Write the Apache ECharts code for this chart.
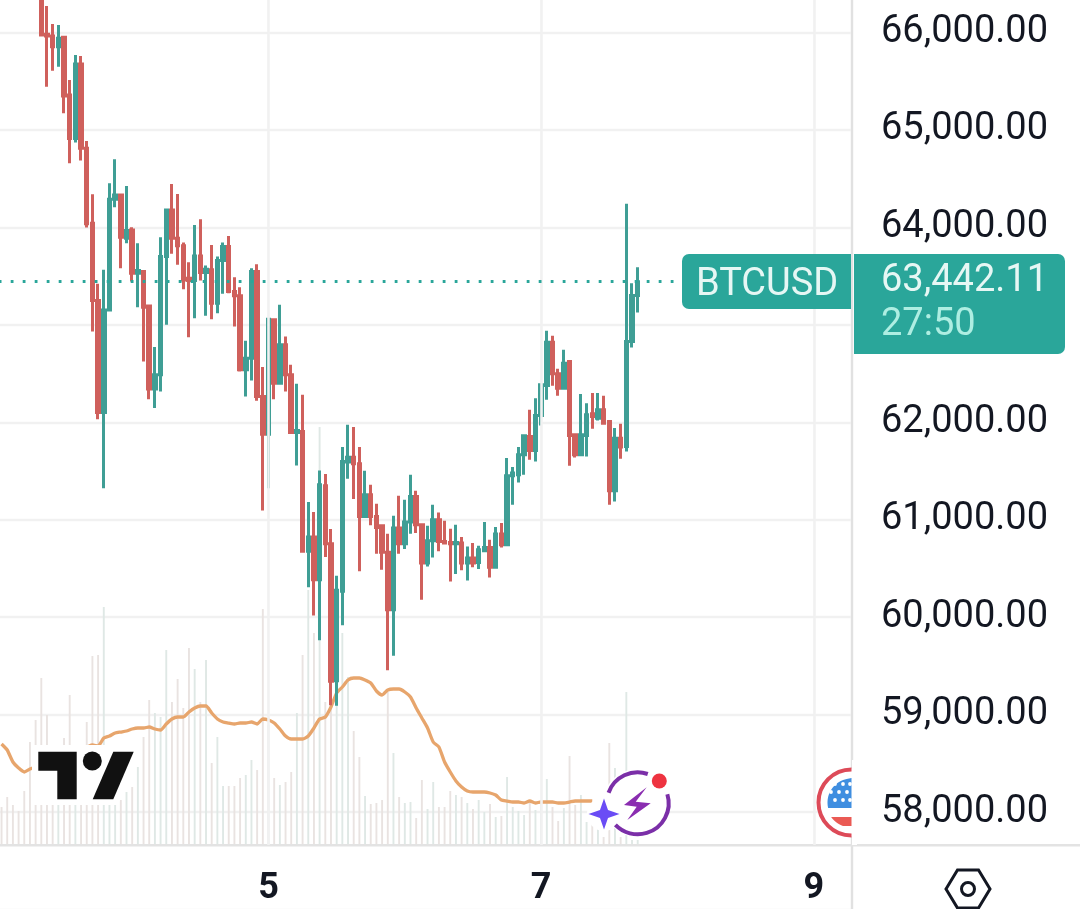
<!DOCTYPE html>
<html><head><meta charset="utf-8">
<style>html,body{margin:0;padding:0;background:#fff}#c{width:1080px;height:909px}</style>
<script src="https://cdn.jsdelivr.net/npm/echarts@6/dist/echarts.min.js"></script>
</head><body><div id="c"></div>
<script>
// hourly bars; first visible bar is hour index 7
const firstCandle = 7;
const opens = [66400,65981,65964,65854,65950,65359,64911,65677,64812,64042,
63249,62100,63153,64289,64333,63889,63974,63530,63547,63194,
62340,62487,63700,64179,63889,63810,63478,63454,63707,63536,
63564,63222,63660,63803,63342,63297,62538,62658,63547,62265,
61878,63051,62401,62795,62487,61895,61906,60675,60822,60384,
61348,60754,59348,60265,61591,61642,61574,61034,61256,61034,
60938,60665,60077,60914,60754,60976,61239,60948,60555,60784,
61000,60777,60767,60754,60760,60555,60606,60562,60682,60716,
60511,60853,60743,61451,61461,61666,61854,61711,62070,62377,
62822,62497,62350,62624,61871,61666,61865,62087,62042,62128,
62008,61297,61837,61752,62829,63300];
const closes = [65974,65964,65854,65940,65348,64911,65677,64812,64036,63249,
62100,63153,64289,64333,63899,63967,63530,63557,63181,62340,
62487,63700,64179,63889,63810,63461,63454,63707,63536,63571,
63222,63660,63803,63342,63297,62538,62658,63547,62265,61878,
63058,62401,62795,62487,61895,61916,60675,60822,60384,61359,
60754,59342,60275,61598,61642,61574,61034,61256,61034,60921,
60665,60077,60914,60754,60976,61239,60948,60555,60784,61000,
60777,60760,60754,60767,60555,60606,60555,60692,60716,60511,
60853,60743,61451,61478,61666,61861,61711,62070,62384,62822,
62497,62350,62606,61865,61666,61871,62077,62060,62128,61991,
61297,61837,61745,62829,63300,63442];
const lows = [65974,65444,65608,65649,65171,64658,64870,64685,63998,62931,
62032,61324,63153,64206,63581,63837,63444,63181,62624,62237,
62145,62316,63000,63728,63615,63365,62873,63068,63454,63092,
63058,63119,63318,63325,62983,62521,62265,62429,62220,61095,
61324,62237,62384,62316,61895,61557,60675,60306,60018,59762,
60617,59095,59092,59916,61420,61212,60470,61034,60942,60651,
60487,59454,59605,60651,60699,60856,60863,60179,60521,60613,
60675,60750,60367,60442,60480,60377,60511,60494,60675,60408,
60511,60716,60736,61153,61383,61461,61615,61598,61967,62230,
62374,62271,62343,61553,61639,61666,61649,61933,62018,61984,
61153,61188,61625,61700,62767,63126];
const highs = [66400,66271,66087,66077,65964,65512,65769,65759,64887,64340,
63420,63564,64453,64699,64333,64425,64001,63837,63557,63194,
62771,63899,64186,64446,64343,63844,63642,64025,64083,63608,
63820,63700,63844,63912,63489,63386,62836,63581,63622,62566,
63068,63058,63205,62880,62589,62394,62282,61181,61078,61506,
61468,60904,60425,61745,61974,61950,61745,61502,61359,61164,
60948,60856,61041,61246,61205,61461,61297,60948,60938,61153,
61075,60989,60907,60948,60822,60726,60760,60733,60976,60794,
60925,60965,61632,61540,61745,61878,62128,62247,62391,62938,
62887,62548,62743,62630,61878,62289,62196,62299,62299,62271,
62015,61940,61984,64241,63427,63591];
const volumes = [38,48,40,34,54,103,125,167,130,40,58,107,150,78,72,123,189,190,238,78,72,45,53,58,78,108,145,132,128,195,
143,166,137,197,176,143,185,82,108,59,59,59,67,70,85,75,236,120,67,60,63,73,132,190,255,212,418,143,155,185,
212,168,114,88,49,41,42,45,153,92,48,42,43,27,65,36,63,38,38,54,50,48,42,36,45,33,41,28,29,68,
38,34,30,42,35,45,66,38,24,37,89,40,50,23,28,18,8,102,77,8,153,5,5];
const volumeAvg = [101,95,83,77,73,76,78,80,82,85,88,91,93,95,97,98,100,99,107,109,112,113,114,116,117,117,118,116,115,121,
126,128,128,133,137,139,139,132,126,123,122,121,122,122,123,121,126,125,122,116,109,106,106,106,109,117,126,128,138,152,
158,165,167,167,165,162,154,150,155,156,156,153,148,137,127,117,103,98,83,73,64,58,54,53,53,53,52,50,45,44,
43,43,42,44,42,43,43,43,42,42,43,44,44,44,44];
const priceTicks = ['66,000.00','65,000.00','64,000.00','63,000.00','62,000.00','61,000.00','60,000.00','59,000.00','58,000.00'];
const dayLabels = {47:'5',95:'7',143:'9'};
const lastPrice = 63442.11;
const bandCount = 150;

const categories = Array.from({length:bandCount},(_,i)=>String(i));
const candleData = categories.map((_,i)=>{
  const k=i-firstCandle;
  return (k>=0&&k<opens.length)?[opens[k],closes[k],lows[k],highs[k]]:'-';
});
const RED='#cf605c', TEAL='#3f9e95', TAG='#2aa69a', INK='#131722', LOGO='#111111';
const volumeData = volumes.map((v,i)=>{
  const k=i-firstCandle;
  const up = k>=0 && closes[k]>=opens[k];
  return {value:v,itemStyle:{color:up?'#dfe8e5':'#e9e3e1'}};
});

// circular-segment helper for the flag badge decoration
function seg(cx,cy,r,y0,y1){
  const pts=[];
  for(let y=y0;y<=y1;y+=1){pts.push([cx-Math.sqrt(Math.max(r*r-(y-cy)*(y-cy),0)),y]);}
  pts.push([cx,y1]);pts.push([cx,y0]);
  return pts;
}
const d2r=Math.PI/180;
const fx=851.5, fy=802.5;
const flagStars=[[835,784],[843,784],[850,784],[831,792],[839,792],[847,792],[835,800],[843,800],[850,800]];
const graphic=[
  // right panel tags
  {type:'rect',z:20,shape:{x:682,y:254,width:169,height:55,r:[7,0,0,7]},style:{fill:TAG}},
  {type:'rect',z:20,shape:{x:854,y:254,width:211,height:100,r:[0,7,7,0]},style:{fill:TAG}},
  {type:'text',z:21,x:696,y:285,style:{text:'BTCUSD',font:'38px Roboto',fill:'#e6f7f4',verticalAlign:'middle'}},
  {type:'text',z:21,x:881,y:281,style:{text:'63,442.11',font:'38px Roboto',fill:'#e6f7f4',verticalAlign:'middle'}},
  {type:'text',z:21,x:881,y:325,style:{text:'27:50',font:'38px Roboto',fill:'#aeeee2',verticalAlign:'middle'}},
  // bottom border
  {type:'rect',z:5,shape:{x:0,y:844,width:1080,height:2.4},style:{fill:'#e3e3e3'}},
  // settings icon
  {type:'polygon',z:6,shape:{points:[[946,889],[957.5,870],[978.5,870],[990,889],[978.5,908],[957.5,908]]},style:{fill:'none',stroke:INK,lineWidth:3}},
  {type:'circle',z:6,shape:{cx:968,cy:889,r:6.5},style:{fill:'none',stroke:INK,lineWidth:3}},
  // TradingView logo
  {type:'polygon',z:6,shape:{points:[[32,745],[140,745],[118,805],[32,805]]},style:{fill:'#fff'}},
  {type:'polygon',z:7,shape:{points:[[38.3,751.7],[76.7,751.7],[76.7,799.3],[57.3,799.3],[57.3,770.7],[38.3,770.7]]},style:{fill:LOGO}},
  {type:'circle',z:7,shape:{cx:92.3,cy:761,r:9.5},style:{fill:LOGO}},
  {type:'polygon',z:7,shape:{points:[[113.3,751.7],[133.7,751.7],[113.3,799.3],[92.7,799.3]]},style:{fill:LOGO}},
  // assistant badge
  {type:'circle',z:6,shape:{cx:637,cy:803,r:34},style:{fill:'#fff'}},
  {type:'circle',z:6,shape:{cx:604,cy:814,r:17},style:{fill:'#fff'}},
  {type:'arc',z:7,shape:{cx:637.7,cy:803.3,r:31,startAngle:200*d2r,endAngle:289*d2r},style:{stroke:'#7b2fa8',lineWidth:4,fill:'none'}},
  {type:'arc',z:7,shape:{cx:637.7,cy:803.3,r:31,startAngle:-17*d2r,endAngle:136*d2r},style:{stroke:'#7b2fa8',lineWidth:4,fill:'none'}},
  {type:'polygon',z:7,shape:{points:[[646.7,787.3],[635.7,801.7],[650.7,803.3],[627.3,820],[636.7,806.7],[624,805]]},style:{fill:'#8a2db0'}},
  {type:'polygon',z:7,shape:{points:[[604,798.5],[608,810],[619.5,814],[608,818],[604,829.5],[600,818],[588.5,814],[600,810]]},style:{fill:'#6a4cf5'}},
  {type:'circle',z:7,shape:{cx:659.3,cy:781,r:9},style:{fill:'#fff'}},
  {type:'circle',z:8,shape:{cx:659.3,cy:781,r:7.5},style:{fill:'#ee3340'}},
  // flag badge (left half only, clipped by the axis)
  {type:'circle',z:6,shape:{cx:fx-0.5,cy:fy,r:34},style:{fill:'#fff'}},
  {type:'rect',z:6,shape:{x:852,y:760,width:5,height:85},style:{fill:'#fff'}},
  {type:'arc',z:7,shape:{cx:fx,cy:fy,r:33,startAngle:90*d2r,endAngle:270*d2r},style:{stroke:'#dd4a58',lineWidth:4,fill:'none'}},
  {type:'polygon',z:7,shape:{points:seg(fx,fy,24,778,808)},style:{fill:'#3f8ee0'}},
  {type:'polygon',z:7,shape:{points:seg(fx,fy,25,817,826)},style:{fill:'#ea5a54'}}
].concat(flagStars.map(p=>({type:'circle',z:8,shape:{cx:p[0],cy:p[1],r:1.9},style:{fill:'#fff'}})));

const left=-1.3, width=852;
const option={
  animation:false,
  backgroundColor:'#fff',
  grid:[
    {left:left,width:width,top:-65,height:974.5,containLabel:false,outerBoundsMode:'none'},
    {left:left,width:width,top:0,height:845,containLabel:false,outerBoundsMode:'none'}
  ],
  xAxis:[
    {type:'category',gridIndex:0,data:categories,show:false},
    {type:'category',gridIndex:1,data:categories,
      axisLine:{show:false},axisTick:{show:false},splitLine:{show:false},
      axisLabel:{interval:i=>dayLabels[i]!==undefined,formatter:(v)=>dayLabels[v]||'',
        color:INK,fontFamily:'Roboto',fontWeight:'bold',fontSize:36,margin:26,hideOverlap:false}}
  ],
  yAxis:[
    {type:'value',gridIndex:0,position:'right',offset:1.3,min:57000,max:67000,interval:1000,
      axisLine:{show:true,lineStyle:{color:'#e1e1e1',width:2.4}},axisTick:{show:false},
      splitLine:{show:true,lineStyle:{color:'#f1f1f1',width:2.4}},
      axisLabel:{margin:29,color:INK,fontFamily:'Roboto',fontSize:38,padding:[0,0,9,0],
        showMinLabel:false,showMaxLabel:false,
        formatter:v=>{const t=priceTicks.find(s=>parseFloat(s.replace(/,/g,''))===v);return t||'';}}},
    {type:'value',gridIndex:1,min:0,max:845,show:false}
  ],
  series:[
    {type:'bar',name:'Volume',xAxisIndex:1,yAxisIndex:1,data:volumeData,barWidth:1.9,z:1,silent:true,
      markLine:{silent:true,symbol:'none',animation:false,label:{show:false},
        lineStyle:{color:'#f1f1f1',width:2.6,type:'solid'},
        data:Object.keys(dayLabels).map(k=>({xAxis:k}))}},
    {type:'line',name:'Volume MA',xAxisIndex:1,yAxisIndex:1,data:volumeAvg,showSymbol:false,smooth:0.2,z:2,silent:true,
      lineStyle:{color:'#e7a56c',width:3.3}},
    {type:'candlestick',name:'BTCUSD',xAxisIndex:0,yAxisIndex:0,data:candleData,barWidth:3,z:3,silent:true,
      itemStyle:{color:TEAL,color0:RED,borderColor:TEAL,borderColor0:RED,borderWidth:3},
      markLine:{silent:true,symbol:'none',animation:false,label:{show:false},
        lineStyle:{color:TAG,width:2.8,type:[2.8,9.2]},
        data:[{yAxis:lastPrice}]}}
  ],
  graphic:graphic
};
echarts.init(document.getElementById('c'),null,{renderer:'canvas'}).setOption(option);
</script>
</body></html>
